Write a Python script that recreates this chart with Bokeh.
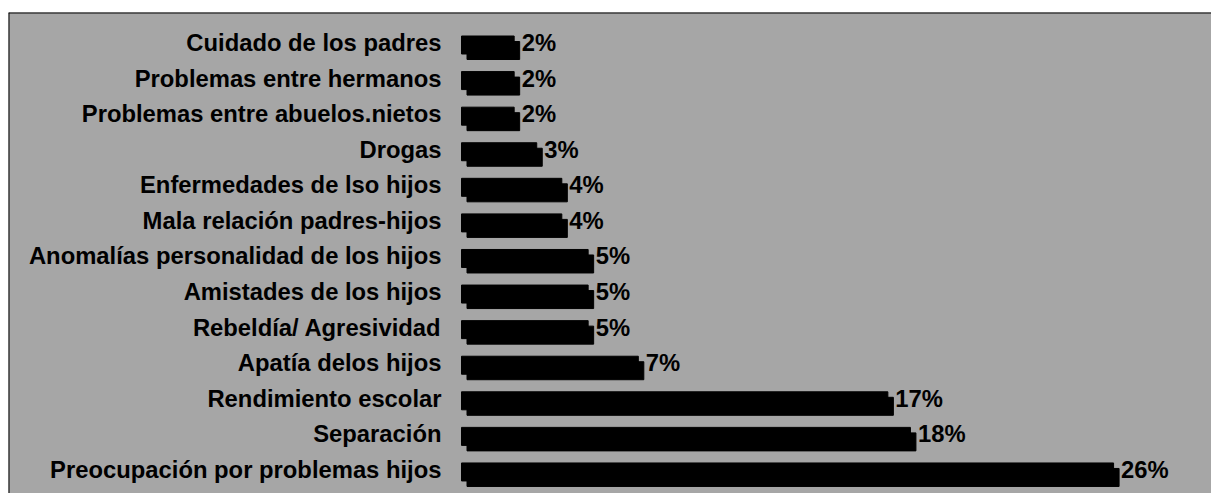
from bokeh.plotting import figure
from bokeh.models import Range1d, ColumnDataSource, Span
from bokeh.core.properties import value
from bokeh.embed import file_html
from bokeh.resources import INLINE

categories = [
    "Cuidado de los padres",
    "Problemas entre hermanos",
    "Problemas entre abuelos.nietos",
    "Drogas",
    "Enfermedades de lso hijos",
    "Mala relación padres-hijos",
    "Anomalías personalidad de los hijos",
    "Amistades de los hijos",
    "Rebeldía/ Agresividad",
    "Apatía delos hijos",
    "Rendimiento escolar",
    "Separación",
    "Preocupación por problemas hijos",
]
values = [2.1, 2.1, 2.1, 3.0, 4.0, 4.0, 5.05, 5.05, 5.05, 7.05, 17.0, 17.9, 26.0]
value_labels = ["2%", "2%", "2%", "3%", "4%", "4%", "5%", "5%", "5%", "7%", "17%", "18%", "26%"]

n = len(categories)
ypos = [n - 1 - i for i in range(n)]

W, H = 1211, 493
LEFT, TOP = 8, 12
FRAME_W = W - LEFT
FRAME_H = H - TOP
PX_X = 25.08   # px per percent
PX_Y = 35.58   # px per row

x0 = -(461 - LEFT) / PX_X
x1 = x0 + FRAME_W / PX_X
y1 = (n - 1) + (42.0 - TOP) / PX_Y
y0 = y1 - FRAME_H / PX_Y

GRAY = "#a6a6a6"
FONT = "Liberation Sans"
FS = "23.8px"

p = figure(width=W, height=H, output_backend="svg", toolbar_location=None,
           x_range=Range1d(x0, x1), y_range=Range1d(y0, y1),
           min_border_left=LEFT, min_border_right=0, min_border_bottom=0, min_border_top=TOP,
           background_fill_color=GRAY, border_fill_color="white",
           outline_line_color=None)
p.axis.visible = False
p.grid.visible = False

dx = 5.5 / PX_X
p.extra_x_ranges = {"shift": Range1d(x0 - dx, x1 - dx)}
p.extra_y_ranges = {
    "top": Range1d(y0 + 2.5 / PX_Y, y1 + 2.5 / PX_Y),
    "bot": Range1d(y0 + 8 / PX_Y, y1 + 8 / PX_Y),
}

src = ColumnDataSource(dict(y=ypos, v=values, cat=categories, lab=value_labels))
bh = 18 / PX_Y

p.hbar(y="y", left=0, right="v", height=bh, source=src, color="black",
       y_range_name="top")
p.hbar(y="y", left=0, right="v", height=bh, source=src, color="black",
       x_range_name="shift", y_range_name="bot")

p.text(x=0, y="y", text="cat", source=src, x_offset=-20, text_align="right",
       text_baseline="middle", text_font=value(FONT), text_font_size=FS,
       text_font_style="bold", text_color="black")
p.text(x="v", y="y", text="lab", source=src, x_offset=2, text_align="left",
       text_baseline="middle", text_font=value(FONT), text_font_size=FS,
       text_font_style="bold", text_color="black", x_range_name="shift")

# chart-area border (top and left edges visible in the reference)
p.add_layout(Span(location=y1, dimension="width", line_color="black", line_width=2))
p.add_layout(Span(location=x0, dimension="height", line_color="black", line_width=2))

open("out.html", "w").write(file_html(p, INLINE))
